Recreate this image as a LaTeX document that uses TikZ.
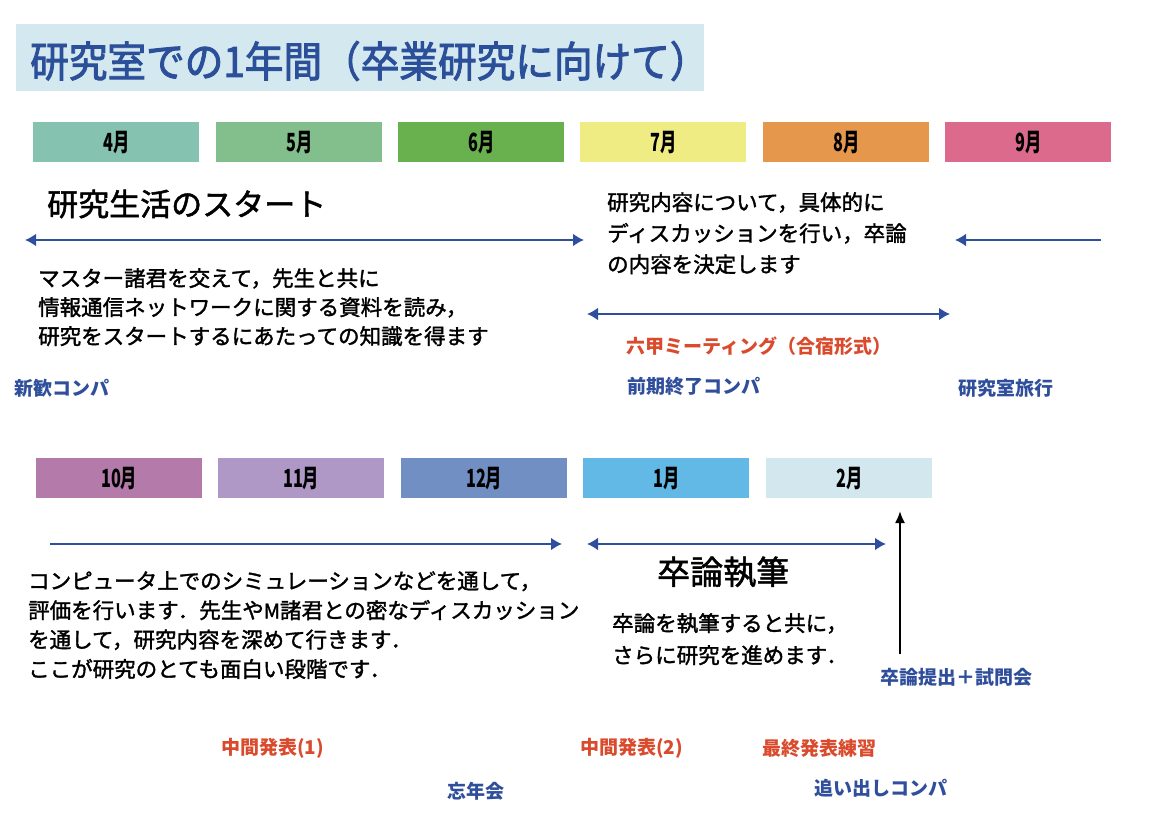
\documentclass[tikz,border=0pt]{standalone}
\usepackage{fontspec}
\usetikzlibrary{arrows.meta}
\newfontfamily\cjk{Noto Sans CJK JP}
\newfontfamily\cjkm[FakeBold=1.6]{Noto Sans CJK JP}
\newfontfamily\cjkt[FakeStretch=0.92,FakeBold=2.2]{Noto Sans CJK JP}
\newfontfamily\cjkc[FakeStretch=0.65]{Noto Sans CJK JP}
\definecolor{titlebg}{HTML}{D4E9EF}
\definecolor{titlefg}{HTML}{2C4F9A}
\definecolor{arrblue}{HTML}{2E4E9E}
\definecolor{lblblue}{HTML}{2F4E9B}
\definecolor{lblred}{HTML}{DA4B2E}
\definecolor{c4}{HTML}{85C3B0}
\definecolor{c5}{HTML}{82BF8C}
\definecolor{c6}{HTML}{69B04F}
\definecolor{c7}{HTML}{F0EC84}
\definecolor{c8}{HTML}{E5974C}
\definecolor{c9}{HTML}{DB6A8C}
\definecolor{c10}{HTML}{B47AAA}
\definecolor{c11}{HTML}{AF98C5}
\definecolor{c12}{HTML}{728FC4}
\definecolor{c1}{HTML}{62B9E5}
\definecolor{c2}{HTML}{D3E8EE}
\tikzset{
  monthbox/.style={anchor=north west, minimum width=166, minimum height=40, inner sep=0,
    font=\cjkc\bfseries\fontsize{25}{25}\selectfont, text=black},
  bigtxt/.style={anchor=west, inner sep=0, font=\cjkm\fontsize{31}{36}\selectfont},
  para/.style={anchor=north west, inner sep=0, align=left},
  redlbl/.style={anchor=west, inner sep=0, text=lblred, font=\cjk\bfseries\fontsize{19}{20}\selectfont},
  bluelbl/.style={anchor=west, inner sep=0, text=lblblue, font=\cjk\bfseries\fontsize{19}{20}\selectfont},
  barrow/.style={draw=arrblue, line width=2.8pt, -{Latex[length=11pt,width=13pt]}},
  dbarrow/.style={draw=arrblue, line width=2.8pt, {Latex[length=11pt,width=13pt]}-{Latex[length=11pt,width=13pt]}},
  karrow/.style={draw=black, line width=2pt, -{Latex[length=12pt,width=10pt]}}
}
\begin{document}
\begin{tikzpicture}[x=1pt,y=-1pt]
\useasboundingbox[fill=white] (0,0) rectangle (1154,834);
% title
\node[anchor=north west, fill=titlebg, minimum width=688, minimum height=67, inner sep=0] (titlebox) at (16,24) {};
\node[anchor=west, inner sep=0, text=titlefg, font=\cjkt\fontsize{42}{48}\selectfont] (title) at (30,61) {研究室での1年間（卒業研究に向けて）};
% month boxes row 1
\foreach \n/\x/\c/\t in {m4/33/c4/4月, m5/216/c5/5月, m6/398/c6/6月, m7/580/c7/7月, m8/763/c8/8月, m9/945/c9/9月}
  \node[monthbox, fill=\c] (\n) at (\x,122) {\t};
% month boxes row 2
\foreach \n/\x/\c/\t in {m10/36/c10/10月, m11/218/c11/11月, m12/401/c12/12月, m1/583/c1/1月, m2/766/c2/2月}
  \node[monthbox, fill=\c] (\n) at (\x,458) {\t};
% row 1 texts
\node[bigtxt] (start) at (47,204) {研究生活のスタート};
\node[para, font=\cjkm\fontsize{21.5}{29}\selectfont] (p1) at (38,268) {マスター諸君を交えて，先生と共に\\情報通信ネットワークに関する資料を読み，\\研究をスタートするにあたっての知識を得ます};
\node[para, font=\cjkm\fontsize{21.5}{31}\selectfont] (p2) at (607,192) {研究内容について，具体的に\\ディスカッションを行い，卒論\\の内容を決定します};
\node[redlbl] (rokko) at (626,346) {六甲ミーティング（合宿形式）};
\node[bluelbl] (shinkan) at (14,388) {新歓コンパ};
\node[bluelbl] (zenki) at (627,386) {前期終了コンパ};
\node[bluelbl] (ryoko) at (958,388) {研究室旅行};
% row 1 arrows
\coordinate (a1l) at (25,240); \coordinate (a1r) at (584,240);
\coordinate (a2s) at (1101,240); \coordinate (a2e) at (955,240);
\coordinate (a3l) at (587,314); \coordinate (a3r) at (950,314);
\draw[dbarrow] (a1l) -- (a1r);
\draw[barrow] (a2s) -- (a2e);
\draw[dbarrow] (a3l) -- (a3r);
% row 2 arrows
\coordinate (a4s) at (50,544); \coordinate (a4e) at (562,544);
\coordinate (a5l) at (587,544); \coordinate (a5r) at (886,544);
\coordinate (b1s) at (900,654); \coordinate (b1e) at (900,511);
\draw[barrow] (a4s) -- (a4e);
\draw[dbarrow] (a5l) -- (a5r);
\draw[karrow] (b1s) -- (b1e);
% row 2 texts
\node[para, font=\cjkm\fontsize{21.5}{29.4}\selectfont] (p3) at (28,571) {コンピュータ上でのシミュレーションなどを通して，\\評価を行います．先生や{\fontsize{20}{20}\selectfont M}諸君との密なディスカッション\\を通して，研究内容を深めて行きます．\\ここが研究のとても面白い段階です．};
\node[bigtxt, font=\cjkm\fontsize{33}{36}\selectfont] (shippitsu) at (657,572) {卒論執筆};
\node[para, font=\cjkm\fontsize{21.5}{32}\selectfont] (p4) at (612,613) {卒論を執筆すると共に，\\さらに研究を進めます．};
\node[bluelbl] (teishutsu) at (880,677) {卒論提出＋試問会};
\node[redlbl] (chukan1) at (221,748) {中間発表(1)};
\node[redlbl] (chukan2) at (580,748) {中間発表(2)};
\node[redlbl] (saishu) at (762,748) {最終発表練習};
\node[bluelbl] (bonen) at (447,791) {忘年会};
\node[bluelbl] (oidashi) at (814,788) {追い出しコンパ};
\end{tikzpicture}
\end{document}
